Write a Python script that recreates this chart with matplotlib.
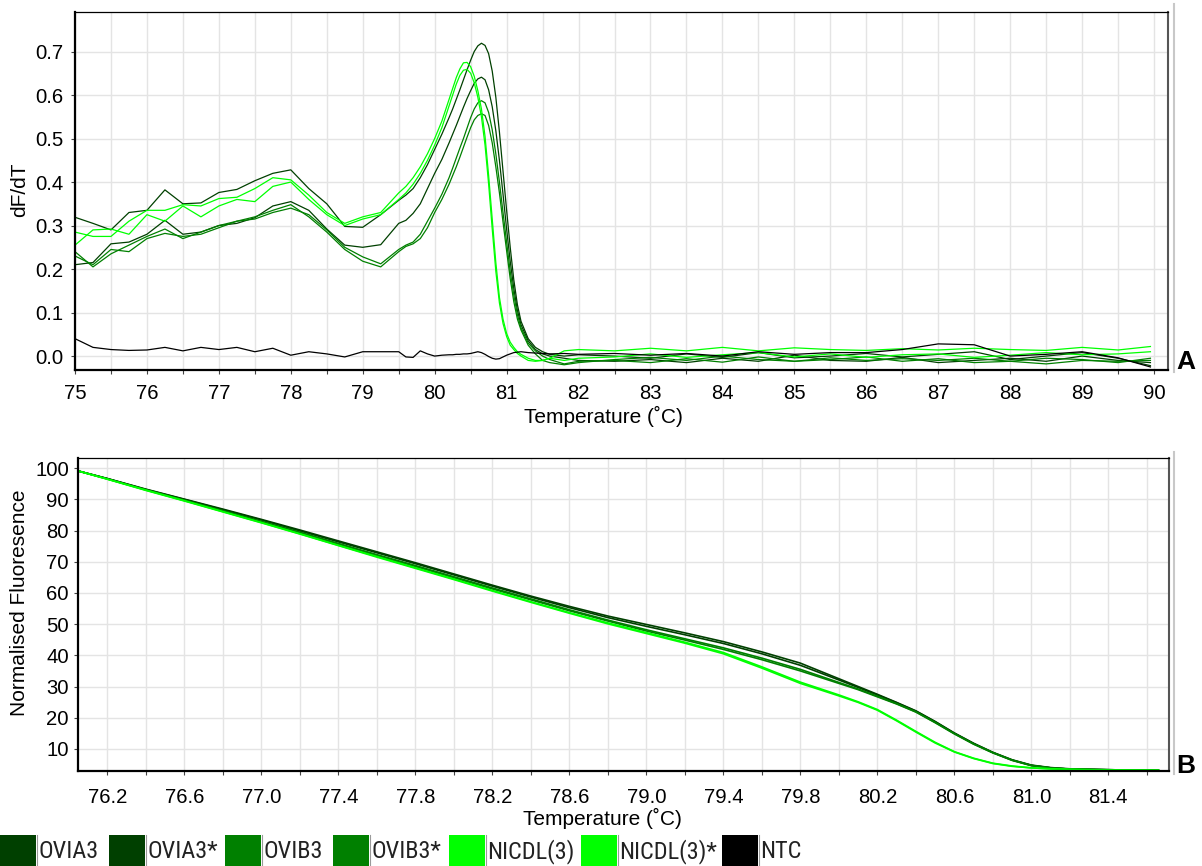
import numpy as np
import matplotlib
matplotlib.use("Agg")
import matplotlib.pyplot as plt
from matplotlib import font_manager
from matplotlib.patches import Rectangle
from matplotlib.ticker import MultipleLocator, FixedLocator, FormatStrFormatter

# ------------------------------------------------------------------
# Sample definitions
# ------------------------------------------------------------------
series_names = ["OVIA3", "OVIA3*", "OVIB3", "OVIB3*", "NICDL(3)", "NICDL(3)*", "NTC"]
series_colors = ["#004000", "#004000", "#008000", "#008000", "#00ff00", "#00ff00", "#000000"]

# ------------------------------------------------------------------
# Panel A: melt curve derivative (dF/dT)
# ------------------------------------------------------------------
temp_a = [75.0, 75.25, 75.5, 75.75, 76.0, 76.25, 76.5, 76.75, 77.0, 77.25,
          77.5, 77.75, 78.0, 78.25, 78.5, 78.75, 79.0, 79.25, 79.5,
          79.6, 79.7, 79.8, 79.9, 80.0, 80.1, 80.2, 80.25, 80.3, 80.35,
          80.4, 80.45, 80.5, 80.55, 80.6, 80.65, 80.7, 80.75, 80.8, 80.85,
          80.9, 80.95, 81.0, 81.05, 81.1, 81.15, 81.2, 81.3, 81.4, 81.5, 81.6,
          81.8, 82.0, 82.5, 83.0, 83.5, 84.0, 84.5, 85.0, 85.5, 86.0,
          86.5, 87.0, 87.5, 88.0, 88.5, 89.0, 89.5, 89.95]

dfdt_ovia3 = [0.319, 0.305, 0.290, 0.330, 0.335, 0.382, 0.350, 0.352, 0.376, 0.383,
              0.403, 0.420, 0.428, 0.385, 0.350, 0.298, 0.296, 0.325, 0.358,
              0.370, 0.385, 0.410, 0.440, 0.475, 0.510, 0.548, 0.568, 0.590, 0.612,
              0.635, 0.658, 0.680, 0.700, 0.713, 0.719, 0.714, 0.695, 0.655, 0.595,
              0.515, 0.425, 0.335, 0.250, 0.175, 0.118, 0.080, 0.040, 0.020, 0.010, 0.004,
              0.000, 0.003, 0.000, -0.005, 0.005, -0.003, 0.008, -0.004, 0.000, 0.006,
              -0.002, 0.004, 0.010, -0.008, 0.000, 0.008, -0.005, -0.022]

dfdt_ovia3s = [0.210, 0.215, 0.258, 0.262, 0.280, 0.312, 0.280, 0.285, 0.300, 0.305,
               0.318, 0.345, 0.355, 0.335, 0.292, 0.255, 0.250, 0.256, 0.305,
               0.312, 0.328, 0.350, 0.385, 0.420, 0.452, 0.490, 0.510, 0.530, 0.551,
               0.572, 0.592, 0.610, 0.627, 0.637, 0.641, 0.635, 0.612, 0.573, 0.518,
               0.450, 0.372, 0.292, 0.218, 0.155, 0.105, 0.072, 0.035, 0.015, 0.005, 0.000,
               -0.005, -0.010, -0.012, -0.008, -0.015, -0.005, -0.012, 0.002, -0.010, -0.012,
               -0.003, -0.015, -0.010, -0.005, -0.012, 0.000, -0.010, -0.015]

dfdt_ovib3 = [0.240, 0.205, 0.235, 0.255, 0.275, 0.292, 0.270, 0.285, 0.300, 0.310,
              0.315, 0.330, 0.340, 0.325, 0.290, 0.250, 0.228, 0.212, 0.245,
              0.255, 0.262, 0.280, 0.310, 0.340, 0.372, 0.410, 0.432, 0.455, 0.478,
              0.500, 0.524, 0.548, 0.568, 0.582, 0.587, 0.582, 0.560, 0.520, 0.465,
              0.400, 0.330, 0.262, 0.195, 0.140, 0.095, 0.065, 0.030, 0.012, 0.000, -0.008,
              -0.018, -0.012, -0.010, -0.015, -0.006, -0.014, -0.002, -0.012, -0.008, -0.002,
              -0.012, -0.006, -0.015, -0.012, -0.018, -0.010, -0.012, -0.010]

dfdt_ovib3s = [0.230, 0.210, 0.245, 0.240, 0.270, 0.282, 0.275, 0.280, 0.295, 0.310,
               0.320, 0.335, 0.348, 0.320, 0.285, 0.245, 0.218, 0.205, 0.240,
               0.252, 0.258, 0.270, 0.295, 0.330, 0.360, 0.395, 0.415, 0.435, 0.457,
               0.480, 0.503, 0.525, 0.543, 0.553, 0.557, 0.553, 0.530, 0.490, 0.435,
               0.375, 0.308, 0.242, 0.178, 0.125, 0.085, 0.060, 0.025, 0.005, -0.010, -0.015,
               -0.020, -0.015, -0.008, -0.003, -0.010, 0.000, -0.008, -0.012, -0.004, -0.010,
               -0.006, -0.010, -0.005, -0.012, -0.005, -0.008, -0.015, -0.005]

dfdt_nicdl = [0.285, 0.275, 0.275, 0.310, 0.335, 0.335, 0.348, 0.345, 0.362, 0.365,
              0.385, 0.410, 0.405, 0.370, 0.330, 0.305, 0.320, 0.330, 0.375,
              0.390, 0.410, 0.435, 0.465, 0.500, 0.540, 0.590, 0.615, 0.640, 0.660,
              0.674, 0.675, 0.665, 0.643, 0.610, 0.568, 0.505, 0.415, 0.315, 0.215,
              0.135, 0.085, 0.052, 0.032, 0.020, 0.010, 0.004, -0.005, -0.010, -0.010, -0.005,
              0.012, 0.015, 0.012, 0.018, 0.012, 0.020, 0.012, 0.019, 0.015, 0.013,
              0.017, 0.014, 0.018, 0.015, 0.013, 0.020, 0.014, 0.022]

dfdt_nicdls = [0.255, 0.290, 0.292, 0.280, 0.325, 0.310, 0.345, 0.320, 0.345, 0.360,
               0.355, 0.390, 0.400, 0.360, 0.325, 0.300, 0.315, 0.325, 0.360,
               0.375, 0.395, 0.420, 0.450, 0.485, 0.525, 0.575, 0.600, 0.625, 0.645,
               0.657, 0.659, 0.650, 0.628, 0.595, 0.550, 0.485, 0.395, 0.292, 0.195,
               0.122, 0.075, 0.045, 0.025, 0.015, 0.006, 0.000, -0.010, -0.012, -0.010, -0.005,
               -0.010, -0.005, -0.002, 0.005, -0.003, 0.003, 0.008, -0.002, 0.005, -0.003,
               0.003, 0.005, -0.003, 0.002, 0.008, 0.003, 0.005, 0.010]

dfdt_ntc = [0.040, 0.020, 0.015, 0.013, 0.014, 0.020, 0.012, 0.020, 0.015, 0.020,
            0.010, 0.018, 0.002, 0.010, 0.005, -0.002, 0.010, 0.010, 0.010,
            -0.002, -0.003, 0.012, 0.005, 0.000, 0.002, 0.003, 0.003, 0.004, 0.004,
            0.005, 0.005, 0.006, 0.008, 0.010, 0.008, 0.004, -0.001, -0.005, -0.007,
            -0.006, -0.002, 0.002, 0.005, 0.008, 0.009, 0.010, 0.008, 0.007, 0.006, 0.005,
            0.006, 0.004, 0.006, 0.002, 0.006, 0.000, 0.010, 0.004, 0.008, 0.008,
            0.015, 0.028, 0.026, 0.000, 0.004, 0.010, -0.004, -0.025]

# ------------------------------------------------------------------
# Panel B: normalised fluorescence
# ------------------------------------------------------------------
temp_b = [76.05, 76.2, 76.4, 76.6, 76.8, 77.0, 77.2, 77.4, 77.6, 77.8,
          78.0, 78.2, 78.4, 78.6, 78.8, 79.0, 79.2, 79.4, 79.6, 79.8,
          80.0, 80.1, 80.2, 80.3, 80.4, 80.5, 80.6, 80.7, 80.8, 80.9,
          81.0, 81.1, 81.2, 81.4, 81.66]

fluor_ovia3 = [99.1, 96.7, 93.3, 90.1, 86.9, 83.6, 80.2, 76.7, 73.2, 69.7,
               66.1, 62.5, 59.0, 55.7, 52.6, 49.9, 47.2, 44.4, 41.1, 37.5,
               32.5, 30.0, 27.5, 24.9, 22.2, 18.8, 15.1, 11.8, 8.9, 6.5,
               4.8, 4.0, 3.6, 3.3, 3.1]
fluor_ovia3s = [99.1, 96.7, 93.2, 90.0, 86.7, 83.4, 79.9, 76.4, 72.9, 69.4,
                65.8, 62.2, 58.7, 55.3, 52.1, 49.3, 46.6, 43.8, 40.5, 36.8,
                32.1, 29.7, 27.3, 24.8, 22.1, 18.7, 15.0, 11.7, 8.8, 6.4,
                4.7, 3.9, 3.5, 3.3, 3.1]
fluor_ovib3 = [99.1, 96.6, 93.1, 89.8, 86.4, 83.0, 79.5, 75.9, 72.3, 68.8,
               65.2, 61.6, 58.1, 54.6, 51.3, 48.2, 45.3, 42.4, 39.1, 35.5,
               31.3, 29.2, 26.9, 24.5, 21.9, 18.5, 14.9, 11.6, 8.8, 6.4,
               4.7, 3.9, 3.5, 3.3, 3.1]
fluor_ovib3s = [99.1, 96.6, 93.1, 89.7, 86.3, 82.8, 79.3, 75.6, 72.0, 68.5,
                64.9, 61.3, 57.8, 54.3, 51.0, 47.8, 44.9, 41.9, 38.6, 35.0,
                31.0, 29.0, 26.7, 24.4, 21.8, 18.4, 14.8, 11.5, 8.7, 6.3,
                4.6, 3.9, 3.5, 3.3, 3.1]
fluor_nicdl = [99.1, 96.5, 93.0, 89.6, 86.1, 82.6, 79.0, 75.3, 71.7, 68.1,
               64.5, 60.8, 57.2, 53.7, 50.4, 47.3, 44.2, 40.9, 36.3, 31.4,
               27.3, 25.1, 22.6, 19.2, 15.6, 12.1, 9.1, 7.0, 5.4, 4.5,
               3.9, 3.6, 3.4, 3.2, 3.1]
fluor_nicdls = [99.1, 96.5, 92.9, 89.5, 86.0, 82.5, 78.9, 75.2, 71.5, 67.9,
                64.3, 60.6, 57.0, 53.5, 50.1, 47.0, 43.9, 40.5, 35.9, 31.0,
                27.0, 24.9, 22.4, 19.0, 15.4, 11.9, 9.0, 6.9, 5.3, 4.4,
                3.9, 3.6, 3.4, 3.2, 3.1]

dfdt_series = [dfdt_ovia3, dfdt_ovia3s, dfdt_ovib3, dfdt_ovib3s,
               dfdt_nicdl, dfdt_nicdls, dfdt_ntc]
fluor_series = [fluor_ovia3, fluor_ovia3s, fluor_ovib3, fluor_ovib3s,
                fluor_nicdl, fluor_nicdls]

# ------------------------------------------------------------------
# Fonts
# ------------------------------------------------------------------
available = {f.name for f in font_manager.fontManager.ttflist}
MAIN_FONT = "Liberation Sans" if "Liberation Sans" in available else "DejaVu Sans"
NARROW_FONT = None
for cand in ["Liberation Sans Narrow", "DejaVu Sans Condensed", "Arial Narrow",
             "Roboto Condensed", "Open Sans Condensed"]:
    if cand in available:
        NARROW_FONT = cand
        break
plt.rcParams["font.family"] = [MAIN_FONT, "DejaVu Sans"]

W, H = 1202, 866
fig = plt.figure(figsize=(W / 100, H / 100), dpi=100)
fig.patch.set_facecolor("white")


def px_rect(left, top, right, bottom):
    return [left / W, 1 - bottom / H, (right - left) / W, (bottom - top) / H]


def style_axes(ax, ypad, xpad):
    ax.set_facecolor("white")
    ax.grid(True, which="both", color="#e4e4e4", lw=1.0)
    ax.set_axisbelow(True)
    for side in ("left", "bottom"):
        ax.spines[side].set_linewidth(1.6)
        ax.spines[side].set_color("black")
    ax.spines["top"].set_linewidth(0.9)
    ax.spines["top"].set_color("black")
    ax.spines["right"].set_linewidth(1.5)
    ax.spines["right"].set_color("#555555")
    ax.tick_params(which="both", direction="out", length=3, width=0.8,
                   color="#444444", labelcolor="black", labelsize=14.6)
    ax.tick_params(axis="y", which="both", pad=ypad)
    ax.tick_params(axis="x", which="both", pad=xpad)


# ---------------- Panel A ----------------
axA = fig.add_axes(px_rect(75, 11.7, 1167.7, 370))
style_axes(axA, ypad=5.5, xpad=7.0)
for vals, col in zip(dfdt_series, series_colors):
    axA.plot(temp_a, vals, color=col, lw=0.9, solid_joinstyle="round")
axA.set_xlim(75, 90.19)
axA.set_ylim(-0.032, 0.7915)
axA.xaxis.set_major_locator(MultipleLocator(1))
axA.xaxis.set_minor_locator(MultipleLocator(0.5))
axA.yaxis.set_major_locator(FixedLocator([0.0, 0.1, 0.2, 0.3, 0.4, 0.5, 0.6, 0.7]))
axA.yaxis.set_major_formatter(FormatStrFormatter("%.1f"))
axA.xaxis.set_major_formatter(FormatStrFormatter("%d"))
axA.set_xlabel("Temperature (˚C)", fontsize=15)
axA.xaxis.label.set_va("center")
axA.xaxis.set_label_coords(0.484, -0.131)
axA.set_ylabel("dF/dT", fontsize=15)
axA.yaxis.label.set_va("center")
axA.yaxis.set_label_coords(-0.0503, 0.502)

# ---------------- Panel B ----------------
axB = fig.add_axes(px_rect(77.7, 457.5, 1169, 771))
style_axes(axB, ypad=3.4, xpad=9.0)
for vals, col in zip(fluor_series, series_colors[:6]):
    axB.plot(temp_b, vals, color=col, lw=1.2, solid_joinstyle="round")
axB.set_xlim(76.046, 81.715)
axB.set_ylim(2.9, 103.45)
xb_major = [76.2, 76.6, 77.0, 77.4, 77.8, 78.2, 78.6, 79.0, 79.4, 79.8, 80.2, 80.6, 81.0, 81.4]
xb_minor = [76.4, 76.8, 77.2, 77.6, 78.0, 78.4, 78.8, 79.2, 79.6, 80.0, 80.4, 80.8, 81.2, 81.6]
axB.xaxis.set_major_locator(FixedLocator(xb_major))
axB.xaxis.set_minor_locator(FixedLocator(xb_minor))
axB.xaxis.set_major_formatter(FormatStrFormatter("%.1f"))
axB.yaxis.set_major_locator(FixedLocator([10, 20, 30, 40, 50, 60, 70, 80, 90, 100]))
axB.yaxis.set_major_formatter(FormatStrFormatter("%d"))
axB.set_xlabel("Temperature (˚C)", fontsize=15)
axB.xaxis.label.set_va("center")
axB.xaxis.set_label_coords(0.481, -0.150)
axB.set_ylabel("Normalised Fluoresence", fontsize=15)
axB.yaxis.label.set_va("center")
axB.yaxis.set_label_coords(-0.0529, 0.536)

# ---------------- Overlay: frame edges, panel letters, legend strip ----------------
ov = fig.add_axes([0, 0, 1, 1], zorder=5)
ov.set_xlim(0, W)
ov.set_ylim(H, 0)
ov.axis("off")
ov.patch.set_alpha(0)

ov.plot([1173.5, 1173.5], [4, 372], color="#c8c8c8", lw=1.5)
ov.plot([1173.5, 1173.5], [452, 774], color="#c8c8c8", lw=1.5)

ov.text(1186, 362, "A", fontsize=19, fontweight="bold", ha="center", va="center")
ov.text(1186, 766, "B", fontsize=19, fontweight="bold", ha="center", va="center")

legend_x = [0, 109, 225, 333, 449, 581, 722]
sw_w, sw_top, sw_h = 36, 834.5, 32
if NARROW_FONT:
    leg_font = dict(family=[NARROW_FONT, "DejaVu Sans"], fontsize=17.5)
else:
    leg_font = dict(family=[MAIN_FONT, "DejaVu Sans"], fontsize=15)
for x0, name, col in zip(legend_x, series_names, series_colors):
    ov.add_patch(Rectangle((x0, sw_top), sw_w, sw_h, facecolor=col, edgecolor="none"))
    ov.plot([x0 + sw_w + 0.8, x0 + sw_w + 0.8], [sw_top, sw_top + sw_h], color="#9a9a9a", lw=0.8)
    ov.text(x0 + sw_w + 2.5, sw_top + sw_h / 2 + 1, name, ha="left", va="center",
            color="#222222", **leg_font)

fig.savefig("out.png", dpi=100, facecolor="white")
